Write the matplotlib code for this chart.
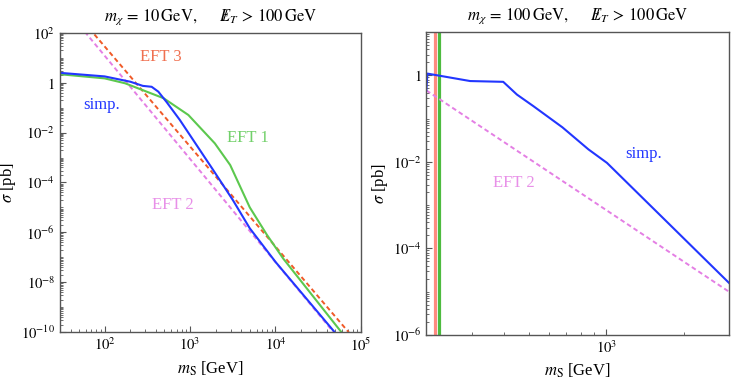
import numpy as np
import matplotlib
matplotlib.use("Agg")
import matplotlib.pyplot as plt
from matplotlib.ticker import LogLocator, FixedLocator, FuncFormatter, NullFormatter

plt.rcParams['font.family'] = ['Liberation Serif', 'DejaVu Serif']
plt.rcParams['mathtext.fontset'] = 'stix'

# left panel, m_chi = 10 GeV
mS_simp_L = [30, 100, 200, 280, 355, 425, 530, 760, 1860, 3160, 5000, 10000, 55000]
sig_simp_L = [2.5, 1.8, 1.1, 0.75, 0.69, 0.44, 0.17, 0.032, 3.2e-4, 2.0e-5, 1.45e-6, 6.5e-8, 6.3e-11]

mS_eft1_L = [30, 100, 174, 490, 955, 1950, 2950, 5000, 7940, 12300, 58900]
sig_eft1_L = [2.2, 1.5, 0.95, 0.24, 0.051, 3.7e-3, 5e-4, 1e-5, 7.9e-7, 8.9e-8, 1e-10]

mS_eft2_L = [30, 100000]
sig_eft2_L = [1780, 4.6e-12]

mS_eft3_L = [30, 100000]
sig_eft3_L = [3600, 2.6e-11]

# right panel, m_chi = 100 GeV
mS_simp_R = [200, 202, 296, 398, 450, 521, 676, 853, 1007, 3000]
sig_simp_R = [0.45, 1.1, 0.74, 0.71, 0.36, 0.195, 0.063, 0.0195, 0.0095, 1.6e-5]

mS_eft2_R = [200, 3000]
sig_eft2_R = [0.45, 1.0e-5]

# EFT 3 / EFT 1 shoot straight up near threshold
mS_vert_R = [217, 225]

c_blue = '#2236ff'
c_green = '#5cc84e'
c_orange = '#f05a28'
c_pink = '#e47fe4'
c_red_band = '#ff8a80'
c_green_band = '#4dbb3f'
frame = '#555555'
dash = (0, (2.4, 1.6))


def ylab(v, pos):
    e = int(round(np.log10(v)))
    if e == 0:
        return '$1$'
    return '$10^{%d}$' % e


def style(ax):
    for s in ax.spines.values():
        s.set_color(frame)
        s.set_linewidth(1.0)
    ax.tick_params(which='both', direction='in', colors=frame, labelcolor='black',
                   labelsize=10.5, top=False, right=False)
    ax.tick_params(which='major', length=4, width=0.8)
    ax.tick_params(which='minor', length=2, width=0.6)


fig = plt.figure(figsize=(7.34, 3.81), dpi=100)

# left
ax1 = fig.add_axes([0.0817, 0.1286, 0.410, 0.785])
ax1.plot(mS_eft3_L, sig_eft3_L, color=c_orange, lw=1.4, ls=dash)
ax1.plot(mS_eft2_L, sig_eft2_L, color=c_pink, lw=1.4, ls=dash)
ax1.plot(mS_eft1_L, sig_eft1_L, color=c_green, lw=1.5)
ax1.plot(mS_simp_L, sig_simp_L, color=c_blue, lw=1.5)
ax1.set_xscale('log')
ax1.set_yscale('log')
ax1.set_xlim(30, 1e5)
ax1.set_ylim(1e-10, 1e2)
ax1.yaxis.set_major_locator(FixedLocator([10.0 ** k for k in range(-10, 3, 2)]))
ax1.yaxis.set_minor_locator(LogLocator(base=10, subs=np.arange(1, 10), numticks=50))
ax1.yaxis.set_major_formatter(FuncFormatter(ylab))
ax1.yaxis.set_minor_formatter(NullFormatter())
ax1.xaxis.set_major_formatter(FuncFormatter(ylab))
ax1.xaxis.set_minor_formatter(NullFormatter())
style(ax1)
ax1.text(460, 11, 'EFT 3', color='#f07050', fontsize=12, ha='center', va='center')
ax1.text(92, 0.13, 'simp.', color=c_blue, fontsize=12, ha='center', va='center')
ax1.text(4800, 0.006, 'EFT 1', color='#72d06a', fontsize=12, ha='center', va='center')
ax1.text(630, 1.3e-5, 'EFT 2', color='#e890e8', fontsize=12, ha='center', va='center')
ax1.set_xlabel(r'$m_{\mathrm{S}}$ [GeV]', fontsize=12, labelpad=4)
ax1.set_ylabel(r'$\sigma$ [pb]', fontsize=12, labelpad=2)
ax1.set_title(r'$m_\chi\,=\,10\,\mathrm{GeV},\qquad /\!\!\!\!E_T\,>\,100\,\mathrm{GeV}$',
              fontsize=12, pad=9)

# right
ax2 = fig.add_axes([0.5808, 0.1207, 0.4124, 0.795])
for xv, cc in zip(mS_vert_R, [c_red_band, c_green_band]):
    ax2.axvline(xv, color=cc, lw=2.3)
ax2.plot(mS_eft2_R, sig_eft2_R, color=c_pink, lw=1.4, ls=dash)
ax2.plot(mS_simp_R, sig_simp_R, color=c_blue, lw=1.5)
ax2.set_xscale('log')
ax2.set_yscale('log')
ax2.set_xlim(200, 3000)
ax2.set_ylim(1e-6, 10)
ax2.yaxis.set_major_locator(FixedLocator([10.0 ** k for k in range(-6, 1, 2)]))
ax2.yaxis.set_minor_locator(LogLocator(base=10, subs=np.arange(1, 10), numticks=50))
ax2.yaxis.set_major_formatter(FuncFormatter(ylab))
ax2.yaxis.set_minor_formatter(NullFormatter())
ax2.xaxis.set_major_locator(FixedLocator([1000]))
ax2.xaxis.set_minor_locator(FixedLocator([300, 400, 500, 600, 700, 800, 900, 2000]))
ax2.xaxis.set_major_formatter(FuncFormatter(ylab))
ax2.xaxis.set_minor_formatter(NullFormatter())
style(ax2)
ax2.text(1400, 0.015, 'simp.', color=c_blue, fontsize=12, ha='center', va='center')
ax2.text(437, 3.2e-3, 'EFT 2', color='#e890e8', fontsize=12, ha='center', va='center')
ax2.set_xlabel(r'$m_{\mathrm{S}}$ [GeV]', fontsize=12, labelpad=4)
ax2.set_ylabel(r'$\sigma$ [pb]', fontsize=12, labelpad=2)
ax2.set_title(r'$m_\chi\,=\,100\,\mathrm{GeV},\qquad /\!\!\!\!E_T\,>\,100\,\mathrm{GeV}$',
              fontsize=12, pad=9)

fig.savefig('out.png', dpi=100)
